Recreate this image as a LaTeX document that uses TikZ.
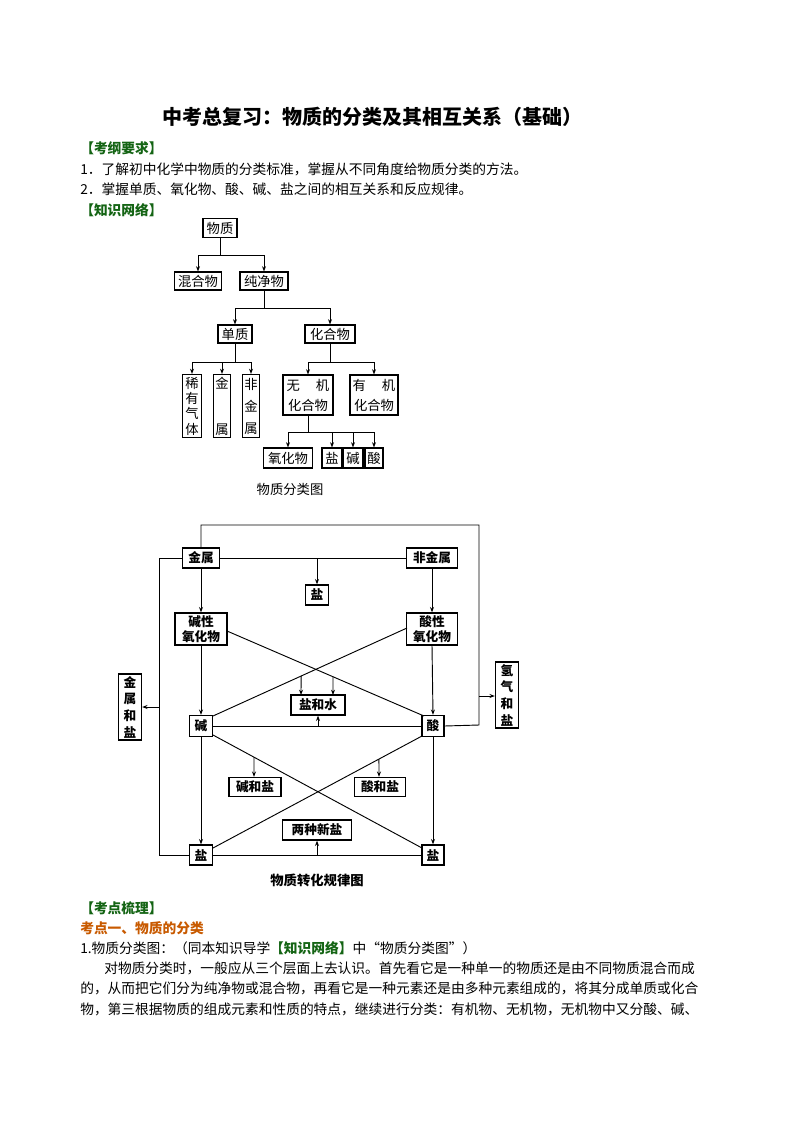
\documentclass[tikz,border=0pt]{standalone}
\usepackage{fontspec}
\setmainfont{Noto Sans CJK SC}
\usetikzlibrary{arrows.meta,calc}
\definecolor{kgreen}{RGB}{20,100,20}
\definecolor{korange}{RGB}{200,90,0}
\begin{document}
\begin{tikzpicture}[x=0.75pt,y=-0.75pt,
  sz/.style 2 args={minimum width=#1*0.75pt,minimum height=#2*0.75pt},
  bx/.style={draw,line width=0.8pt,inner sep=0pt,font=\fontsize{10}{11}\selectfont,align=center},
  bb/.style={bx,line width=1pt,font=\fontsize{9.5}{11}\selectfont\bfseries},
  ln/.style={line width=0.7pt},
  ar/.style={ln,-{Stealth[length=4pt,width=3pt]}},
  txt/.style={anchor=west,inner sep=0pt,font=\fontsize{10.3}{12}\selectfont}]
\useasboundingbox (0,0) rectangle (794,1123);
% text
\node[inner sep=0pt,font=\fontsize{15}{16}\selectfont\bfseries] (title) at (372,117) {中考总复习：物质的分类及其相互关系（基础）};
\node[txt,text=kgreen,font=\fontsize{10.3}{12}\selectfont\bfseries] (t1) at (80,148) {【考纲要求】};
\node[txt] (t2) at (80,169) {1．了解初中化学中物质的分类标准，掌握从不同角度给物质分类的方法。};
\node[txt] (t3) at (80,189) {2．掌握单质、氧化物、酸、碱、盐之间的相互关系和反应规律。};
\node[txt,text=kgreen,font=\fontsize{10.3}{12}\selectfont\bfseries] (t4) at (80,210) {【知识网络】};
\node[txt,text=kgreen,font=\fontsize{10.3}{12}\selectfont\bfseries] (t5) at (80,908) {【考点梳理】};
\node[txt,text=korange,font=\fontsize{10.3}{12}\selectfont\bfseries] (t6) at (80,928) {考点一、物质的分类};
\node[txt] (t7) at (80,948) {1.物质分类图：（同本知识导学\textcolor{kgreen}{\bfseries【知识网络】}中“物质分类图”）};
\node[txt] (t8) at (104,968) {对物质分类时，一般应从三个层面上去认识。首先看它是一种单一的物质还是由不同物质混合而成};
\node[txt] (t9) at (80,988) {的，从而把它们分为纯净物或混合物，再看它是一种元素还是由多种元素组成的，将其分成单质或化合};
\node[txt] (t10) at (80,1009) {物，第三根据物质的组成元素和性质的特点，继续进行分类：有机物、无机物，无机物中又分酸、碱、};
% tree
\node[bx,sz={34}{19}] (wz) at (220,228) {物质};
\node[bx,sz={47}{18}] (hhw) at (198,281) {混合物};
\node[bx,sz={48}{18}] (cjw) at (264,281) {纯净物};
\node[bx,sz={34}{18}] (dz) at (235,334) {单质};
\node[bx,sz={50}{18}] (hhw2) at (330,334) {化合物};
\node[bx,sz={19}{63},font=\fontsize{10}{11.5}\selectfont] (xy) at (192,406) {稀\\有\\气\\体};
\node[bx,sz={17}{63},font=\fontsize{10}{11.5}\selectfont] (js) at (222,406) {金\\[23pt]属};
\node[bx,sz={17}{63},font=\fontsize{10}{11.5}\selectfont] (fjs) at (251,406) {非\\[5pt]金\\[5pt]属};
\node[bx,sz={50}{40},font=\fontsize{10}{15}\selectfont] (wj) at (308,395) {无\hspace{1.2em}机\\化合物};
\node[bx,sz={48}{40},font=\fontsize{10}{15}\selectfont] (yj) at (374,395) {有\hspace{1.2em}机\\化合物};
\node[bx,sz={49}{20}] (yhw) at (288,458) {氧化物};
\node[bx,sz={20}{20}] (yan) at (332,458) {盐};
\node[bx,sz={20}{20}] (jian) at (353,458) {碱};
\node[bx,sz={18}{20}] (suan) at (374,458) {酸};
\node[inner sep=0pt,font=\fontsize{10}{11}\selectfont] (cap1) at (290,489) {物质分类图};
\draw[ln] (wz.south) -- (220,255) coordinate (j1);
\draw[ar] (j1) -| (hhw.north);
\draw[ar] (j1) -| (cjw.north);
\draw[ln] (cjw.south) -- (264,308) coordinate (j2);
\draw[ar] (j2) -| (dz.north);
\draw[ar] (j2) -| (hhw2.north);
\draw[ln] (dz.south) -- (235,362) coordinate (j3);
\draw[ar] (j3) -| (xy.north);
\draw[ar] (j3) -| (js.north);
\draw[ar] (j3) -| (fjs.north);
\draw[ln] (hhw2.south) -- (330,362) coordinate (j4);
\draw[ar] (j4) -| (wj.north);
\draw[ar] (j4) -| (yj.north);
\draw[ln] (wj.south) -- (308,432) coordinate (j5);
\draw[ar] (j5) -| (yhw.north);
\draw[ar] (j5) -| (yan.north);
\draw[ar] (j5) -| (jian.north);
\draw[ar] (j5) -| (suan.north);
% conversion diagram
\node[bb,sz={37}{20}] (M) at (201,558) {金属};
\node[bb,sz={51}{20}] (N) at (432,558) {非金属};
\node[bb,sz={23}{20}] (S0) at (317,595) {盐};
\node[bb,sz={52}{32}] (BO) at (201,629) {碱性\\氧化物};
\node[bb,sz={51}{32}] (AO) at (432,629) {酸性\\氧化物};
\node[bb,sz={54}{20}] (SW) at (318,705) {盐和水};
\node[bb,sz={23}{21}] (B) at (201,726) {碱};
\node[bb,sz={22}{21}] (A) at (433,726) {酸};
\node[bb,sz={23}{66},font=\fontsize{9.5}{12.5}\selectfont\bfseries] (MS) at (130,707) {金\\属\\和\\盐};
\node[bb,sz={23}{66},font=\fontsize{9.5}{12.5}\selectfont\bfseries] (HS) at (507,695) {氢\\气\\和\\盐};
\node[bb,sz={52}{19}] (BS) at (255,787) {碱和盐};
\node[bb,sz={51}{19}] (AS) at (380,787) {酸和盐};
\node[bb,sz={69}{20}] (TS) at (317,830) {两种新盐};
\node[bb,sz={23}{20}] (SL) at (201,855) {盐};
\node[bb,sz={22}{20}] (SR) at (433,855) {盐};
\node[inner sep=0pt,font=\fontsize{10}{11}\selectfont\bfseries] (cap2) at (317,880) {物质转化规律图};
\draw[ln] (M.east) -- (N.west);
\draw[ar] (317,558) -- (S0.north);
\draw[ar] (M.south) -- (BO.north);
\draw[ar] (N.south) -- (AO.north);
\draw[ar] (BO.south) -- (B.north);
\draw[ar] (AO.south) -- (A.north);
\draw[ar] (B.south) -- (SL.north);
\draw[ar] (A.south) -- (SR.north);
\draw[ln] (M.north) -- (201,525) -- (479,525) -- (479,725) -- (A.east);
\draw[ar] (479,696) -- (HS.west |- 0,696);
\draw[ln] (M.west) -- (159,558) -- (159,855) -- (SL.west);
\draw[ar] (159,707) -- (MS.east);
\draw[ln] (227,631) coordinate (c1) -- (424,716) coordinate (c2);
\draw[ln] (407,628) coordinate (c3) -- (213,716) coordinate (c4);
\draw[ar] ($(c3)!0.546!(c4)$) -- (301,695);
\draw[ar] ($(c1)!0.538!(c2)$) -- (333,695);
\draw[ln] (B.east) -- (A.west);
\draw[ar] (318,726) -- (SW.south);
\draw[ln] (213,735) coordinate (d1) -- (422,848) coordinate (d2);
\draw[ln] (422,736) coordinate (d3) -- (213,848) coordinate (d4);
\draw[ar] ($(d1)!0.196!(d2)$) -- (BS.north -| 254,0);
\draw[ar] ($(d3)!0.206!(d4)$) -- (AS.north -| 379,0);
\draw[ln] (SL.east) -- (SR.west);
\draw[ar] (317,855) -- (TS.south);
\end{tikzpicture}
\end{document}
